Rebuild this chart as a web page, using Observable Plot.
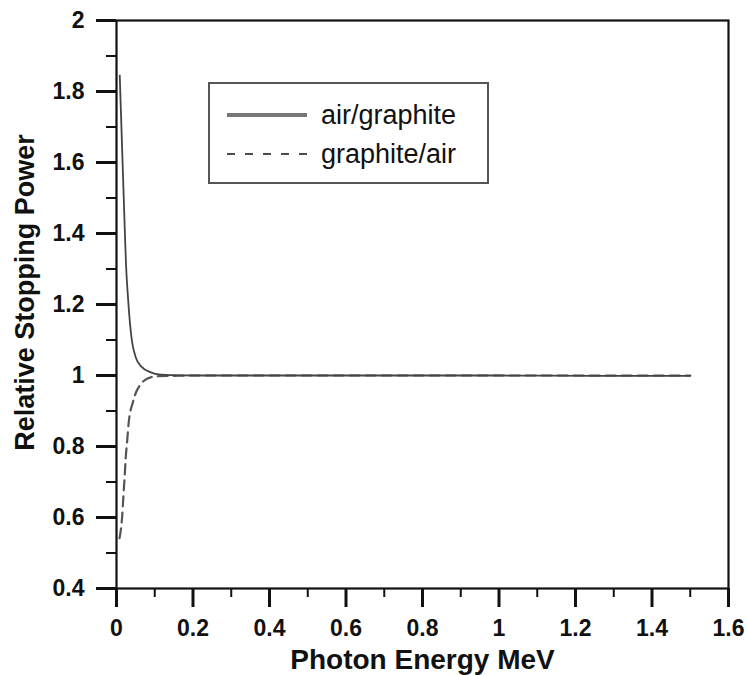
<!DOCTYPE html>
<html>
<head>
<meta charset="utf-8">
<script src="https://cdn.jsdelivr.net/npm/d3@7"></script>
<script src="https://cdn.jsdelivr.net/npm/@observablehq/plot@0.6"></script>
<style>
  body { margin: 0; background: #fff; }
  #wrap { position: relative; width: 747px; height: 675px; font-family: "Liberation Sans", Arial, sans-serif; }
  #legend { position: absolute; left: 208px; top: 82px; width: 277px; height: 98px; border: 2px solid #555; background: #fff; }
  #legend .row { position: absolute; left: 0; height: 30px; display: flex; align-items: center; }
  #legend .row span { font-size: 27px; color: #111; margin-left: 14px; }
</style>
</head>
<body>
<div id="wrap"></div>
<script>
// Series: air/graphite (solid)
const agEnergy = [0.0085, 0.015, 0.022, 0.025, 0.03, 0.035, 0.04, 0.05, 0.065, 0.09, 0.11, 0.15, 0.2, 0.3, 0.4, 0.5, 0.6, 0.8, 1.0, 1.25, 1.5];
const agRatio  = [1.845, 1.63, 1.40, 1.31, 1.22, 1.15, 1.10, 1.052, 1.025, 1.009, 1.003, 1.001, 1.0, 1.0, 1.0, 1.0, 1.0, 1.0, 1.0, 0.999, 0.999];
// Series: graphite/air (dashed)
const gaEnergy = [0.008, 0.015, 0.018, 0.021, 0.024, 0.028, 0.032, 0.043, 0.052, 0.061, 0.075, 0.09, 0.11, 0.15, 0.2, 0.3, 0.4, 0.5, 0.6, 0.8, 1.0, 1.25, 1.5];
const gaRatio  = [0.542, 0.606, 0.66, 0.71, 0.766, 0.817, 0.868, 0.925, 0.955, 0.972, 0.988, 0.995, 0.998, 0.999, 1.0, 1.0, 1.0, 1.0, 1.0, 1.0, 1.0, 1.0, 1.0];
// Ticks
const xMajor = [0, 0.2, 0.4, 0.6, 0.8, 1.0, 1.2, 1.4, 1.6];
const xMinor = [0.1, 0.3, 0.5, 0.7, 0.9, 1.1, 1.3, 1.5];
const yMajor = [0.4, 0.6, 0.8, 1.0, 1.2, 1.4, 1.6, 1.8, 2.0];
const yMinor = [0.5, 0.7, 0.9, 1.1, 1.3, 1.5, 1.7, 1.9];
const seriesNames = ["air/graphite", "graphite/air"];
const xTitle = "Photon Energy MeV";
const yTitle = "Relative Stopping Power";

const ag = agEnergy.map((e, i) => ({E: e, R: agRatio[i]}));
const ga = gaEnergy.map((e, i) => ({E: e, R: gaRatio[i]}));
const fmt = d => String(+d.toFixed(1));
const font = "Liberation Sans, Arial, sans-serif";

const chart = Plot.plot({
  width: 747,
  height: 675,
  marginLeft: 116,
  marginTop: 20,
  marginRight: 19,
  marginBottom: 87,
  style: {fontFamily: font, background: "#fff", color: "#111"},
  x: {domain: [0, 1.6], axis: null},
  y: {domain: [0.4, 2], axis: null},
  marks: [
    Plot.line(ga, {x: "E", y: "R", stroke: "#555", strokeWidth: 2.2, strokeDasharray: "10,6", curve: "monotone-x"}),
    Plot.line(ag, {x: "E", y: "R", stroke: "#444", strokeWidth: 1.8, curve: "monotone-x"}),
    Plot.frame({stroke: "#111", strokeWidth: 2.2}),
    Plot.axisX({ticks: xMajor, tickSize: 19, tickPadding: 12, tickFormat: fmt, fontSize: 23, fontWeight: "bold", stroke: "#111", strokeWidth: 3, label: null}),
    Plot.axisX({ticks: xMinor, tickSize: 9, tickFormat: () => "", stroke: "#111", strokeWidth: 2, label: null}),
    Plot.axisY({ticks: yMajor, tickSize: 20, tickPadding: 12, tickFormat: fmt, fontSize: 23, fontWeight: "bold", stroke: "#111", strokeWidth: 3, label: null}),
    Plot.axisY({ticks: yMinor, tickSize: 10, tickFormat: () => "", stroke: "#111", strokeWidth: 2, label: null}),
    Plot.text([xTitle], {frameAnchor: "bottom", lineAnchor: "bottom", textAnchor: "middle", dy: 80, text: d => d, fontSize: 28, fontWeight: "bold", fill: "#111"}),
    Plot.text([yTitle], {frameAnchor: "left", lineAnchor: "bottom", textAnchor: "middle", rotate: -90, dx: -83, dy: -12, text: d => d, fontSize: 27, fontWeight: "bold", fill: "#111"})
  ]
});

const wrap = document.getElementById("wrap");
wrap.appendChild(chart);

// Legend
const legend = document.createElement("div");
legend.id = "legend";
const styles = [
  {stroke: "#777", width: 4, dash: null, top: 16},
  {stroke: "#111", width: 1.6, dash: "8,10", top: 55}
];
seriesNames.forEach((name, i) => {
  const s = styles[i];
  const row = document.createElement("div");
  row.className = "row";
  row.style.top = s.top + "px";
  const svg = d3.create("svg").attr("width", 97).attr("height", 30);
  svg.append("line").attr("x1", 17).attr("x2", 97).attr("y1", 15).attr("y2", 15)
    .attr("stroke", s.stroke).attr("stroke-width", s.width).attr("stroke-dasharray", s.dash);
  row.appendChild(svg.node());
  const label = document.createElement("span");
  label.textContent = name;
  row.appendChild(label);
  legend.appendChild(row);
});
wrap.appendChild(legend);
</script>
</body>
</html>
